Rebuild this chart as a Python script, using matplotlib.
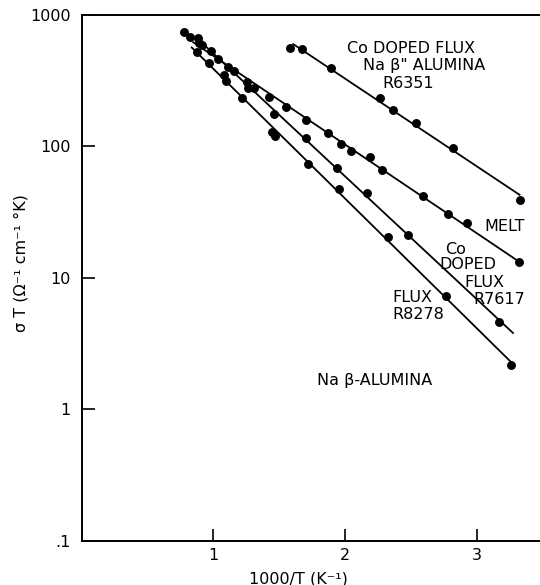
import numpy as np
import matplotlib
matplotlib.use("Agg")
import matplotlib.pyplot as plt

# ---- data ----
r6351_x = [1.580, 1.674, 1.889, 2.268, 2.362, 2.535, 2.820, 3.327]
r6351_y = [564, 551, 393, 232, 189, 150, 97.7, 39.1]

melt_x = [0.776, 0.822, 0.910, 1.032, 1.156, 1.257, 1.424, 1.549, 1.701, 1.871,
          1.967, 2.046, 2.190, 2.281, 2.590, 2.783, 2.922, 3.322]
melt_y = [738, 677, 591, 460, 375, 311, 236, 201, 159, 126,
          104, 92.7, 83.5, 66.1, 42.2, 30.4, 26.3, 13.1]

r7617_x = [0.885, 0.890, 0.981, 1.112, 1.264, 1.310, 1.462, 1.701, 1.936, 2.169, 2.477, 3.165]
r7617_y = [665, 609, 532, 400, 280, 280, 175, 116, 68.1, 44, 21.2, 4.63]

r8278_x = [0.877, 0.968, 1.082, 1.095, 1.219, 1.444, 1.465, 1.719, 1.954, 2.326, 2.768, 3.262]
r8278_y = [526, 429, 349, 316, 232, 129, 120, 73.5, 47.4, 20.5, 7.31, 2.17]

# x-extent of each drawn straight line
r6351_line = [1.60, 3.33]
melt_line = [0.84, 3.32]
r7617_line = [0.87, 3.28]
r8278_line = [0.83, 3.29]

xticks = [1, 2, 3]
xticklabels = ["1", "2", "3"]
yticks = [0.1, 1, 10, 100, 1000]
yticklabels = [".1", "1", "10", "100", "1000"]

fig = plt.figure(figsize=(5.4, 5.85), dpi=100)
ax = fig.add_axes([81.8/540, 1 - 540.7/585, 1 - 81.8/540, (540.7 - 15)/585])
ax.set_yscale("log")
ax.set_xlim(0, 3.48)
ax.set_ylim(0.1, 1000)

series = [(r6351_x, r6351_y, r6351_line), (melt_x, melt_y, melt_line),
          (r7617_x, r7617_y, r7617_line), (r8278_x, r8278_y, r8278_line)]
for xs, ys, lr in series:
    xs = np.asarray(xs); ys = np.asarray(ys)
    p = np.polyfit(xs, np.log10(ys), 1)
    lx = np.array(lr)
    ax.plot(lx, 10 ** np.polyval(p, lx), color="black", lw=1.3, solid_capstyle="butt")
    ax.plot(xs, ys, "o", color="black", ms=5.4, mec="black")

ax.set_xticks(xticks)
ax.set_xticklabels(xticklabels)
ax.set_yticks(yticks)
ax.set_yticklabels(yticklabels)
ax.minorticks_off()
ax.yaxis.set_minor_locator(matplotlib.ticker.NullLocator())
ax.tick_params(direction="in", length=9, width=1.2, labelsize=11.5, pad=5)
ax.tick_params(axis="y", pad=8)
for s in ["left", "bottom", "top"]:
    ax.spines[s].set_linewidth(1.4)
ax.spines["right"].set_visible(False)

ax.set_xlabel("1000/T (K⁻¹)", fontsize=11.5, va="center")
ax.xaxis.set_label_coords(0.472, -0.072)
ax.set_ylabel("σ T (Ω⁻¹ cm⁻¹ °K)", fontsize=11.5, va="center")
ax.yaxis.set_label_coords(-0.133, 0.528)

fs = 11.5
ax.text(2.50, 557, "Co DOPED FLUX", fontsize=fs, ha="center", va="center")
ax.text(2.60, 410, "Na β\" ALUMINA", fontsize=fs, ha="center", va="center")
ax.text(2.48, 300, "R6351", fontsize=fs, ha="center", va="center")
ax.text(3.21, 24.5, "MELT", fontsize=fs, ha="center", va="center")
ax.text(2.84, 16.3, "Co", fontsize=fs, ha="center", va="center")
ax.text(2.93, 12.6, "DOPED", fontsize=fs, ha="center", va="center")
ax.text(3.06, 9.25, "FLUX", fontsize=fs, ha="center", va="center")
ax.text(3.17, 6.9, "R7617", fontsize=fs, ha="center", va="center")
ax.text(2.36, 7.1, "FLUX", fontsize=fs, ha="left", va="center")
ax.text(2.36, 5.3, "R8278", fontsize=fs, ha="left", va="center")
ax.text(1.79, 1.65, "Na β-ALUMINA", fontsize=fs, ha="left", va="center")

fig.savefig("out.png", dpi=100)
